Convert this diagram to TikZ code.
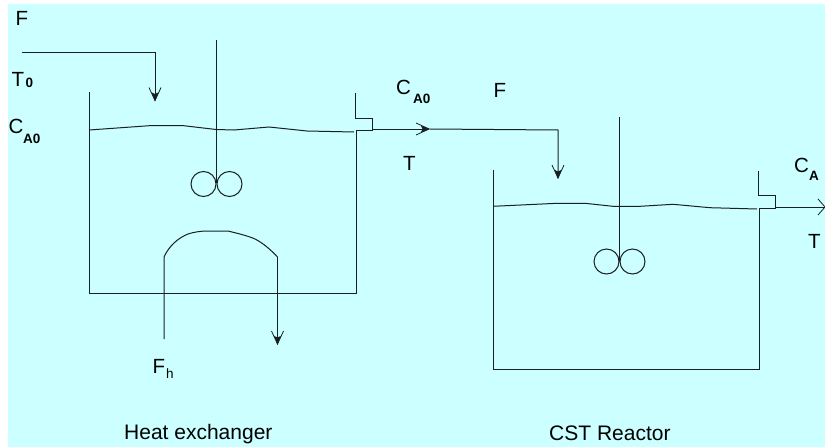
\documentclass[tikz,border=0pt]{standalone}
\usepackage{fontspec}
\setmainfont{Liberation Sans}
\usetikzlibrary{arrows.meta}
\definecolor{bgc}{HTML}{CCFFFF}
\definecolor{linec}{HTML}{1A1F1F}
\tikzset{
  x=1pt,y=-1pt,
  ln/.style={draw=linec,line width=1pt},
  flow/.style={ln,-{Straight Barb[length=13pt,width=12pt,line width=0.8pt,sep=-9pt]Stealth[length=9pt,width=6.5pt,inset=1.5pt]}},
  lbl/.style={inner sep=0pt,font=\fontsize{20.5}{24}\selectfont,text=black},
  captxt/.style={inner sep=0pt,font=\fontsize{21}{25}\selectfont,text=black},
  subb/.style={inner sep=0pt,font=\fontsize{13.5}{16}\selectfont\bfseries,text=black},
  subr/.style={inner sep=0pt,font=\fontsize{13.5}{16}\selectfont,text=black}
}
\begin{document}
\begin{tikzpicture}
\useasboundingbox (0,0) rectangle (825,447);
\fill[white] (0,0) rectangle (825,447);
\fill[bgc] (8,4) rectangle (825,447);
% tank 1
\coordinate (t1a) at (89,92);
\coordinate (t1b) at (89,293);
\coordinate (t1c) at (356,293);
\coordinate (t1d) at (356,130);
\coordinate (t1e) at (355,93);
\coordinate (t1f) at (355,118);
\coordinate (t1g) at (372,118);
\coordinate (t1h) at (372,130);
\draw[ln] (t1a) -- (t1b) -- (t1c) -- (t1d) -- (t1h) -- (t1g) -- (t1f) -- (t1e);
\draw[ln] (89,130) -- (152,125.5) -- (182,125.5) -- (216,129.5) -- (234,130) -- (269,127) -- (307,131) -- (354,132);
% feed
\coordinate (f1) at (22,52);
\coordinate (f2) at (155,52);
\coordinate (f3) at (155,101.5);
\draw[flow] (f1) -- (f2) -- (f3);
% stirrer 1
\coordinate (s1a) at (216,40);
\coordinate (s1b) at (216,183);
\draw[ln] (s1a) -- (s1b);
\draw[ln] (203.5,184) ellipse (12.5 and 12.5);
\draw[ln] (229.5,184) ellipse (12.5 and 12.5);
% link
\coordinate (l1) at (372,129);
\coordinate (l2) at (430,129);
\coordinate (l3) at (558,130);
\coordinate (l4) at (558,179);
\draw[flow] (l1) -- (l2);
\draw[flow] (l2) -- (l3) -- (l4);
% coil
\coordinate (c1) at (164,339);
\coordinate (c2) at (164,257);
\coordinate (c3) at (277.5,257);
\coordinate (c4) at (277.5,345);
\draw[ln] (c1) -- (c2) .. controls (169,246) and (178,238) .. (188,234) .. controls (194,232) and (201,231) .. (208,231) -- (228,231) .. controls (238,233.5) and (247,235.5) .. (255,239) .. controls (263,243) and (271,250) .. (c3);
\draw[flow] (c3) -- (c4);
% tank 2
\coordinate (t2a) at (493,170);
\coordinate (t2b) at (493,369);
\coordinate (t2c) at (759,369);
\coordinate (t2d) at (759,208);
\coordinate (t2e) at (758,171);
\coordinate (t2f) at (758,195.5);
\coordinate (t2g) at (775,195.5);
\coordinate (t2h) at (775,208);
\draw[ln] (t2a) -- (t2b) -- (t2c) -- (t2d) -- (t2h) -- (t2g) -- (t2f) -- (t2e);
\draw[ln] (493,206.3) -- (557,203.3) -- (585,203.3) -- (613,206.3) -- (640,206.3) -- (673,204.3) -- (710,207.7) -- (757,209);
\coordinate (s2a) at (619,117);
\coordinate (s2b) at (619,262);
\draw[ln] (s2a) -- (s2b);
\draw[ln] (606.5,261.5) ellipse (12.5 and 12.5);
\draw[ln] (632.5,261.5) ellipse (12.5 and 12.5);
\coordinate (o1) at (775,207);
\coordinate (o2) at (825,207);
\draw[ln] (o1) -- (o2);
\draw[ln,line width=0.8pt] (818,199) -- (o2) -- (818,215);
% labels
\node[lbl,anchor=base west] (lF) at (15.5,25) {F};
\node[lbl,anchor=base west] (lT0) at (11.5,86) {T};
\node[subb,anchor=base west] (lT0s) at (25.5,87) {0};
\node[lbl,anchor=base west] (lCA0) at (8.5,133) {C};
\node[subb,anchor=base west] (lCA0s) at (23,143) {A0};
\node[lbl,anchor=base west] (lCA0b) at (396,94) {C};
\node[subb,anchor=base west] (lCA0bs) at (413,103) {A0};
\node[lbl,anchor=base west] (lF2) at (493.5,97) {F};
\node[lbl,anchor=base west] (lT) at (403,170) {T};
\node[lbl,anchor=base west] (lCA) at (794,172) {C};
\node[subb,anchor=base west] (lCAs) at (809,180) {A};
\node[lbl,anchor=base west] (lT2) at (808,248) {T};
\node[lbl,anchor=base west] (lFh) at (152.5,373) {F};
\node[subr,anchor=base west] (lFhs) at (166,378) {h};
\node[captxt,anchor=base west] (cap1) at (124,439) {Heat exchanger};
\node[captxt,anchor=base west] (cap2) at (549,440) {CST Reactor};
\end{tikzpicture}
\end{document}
